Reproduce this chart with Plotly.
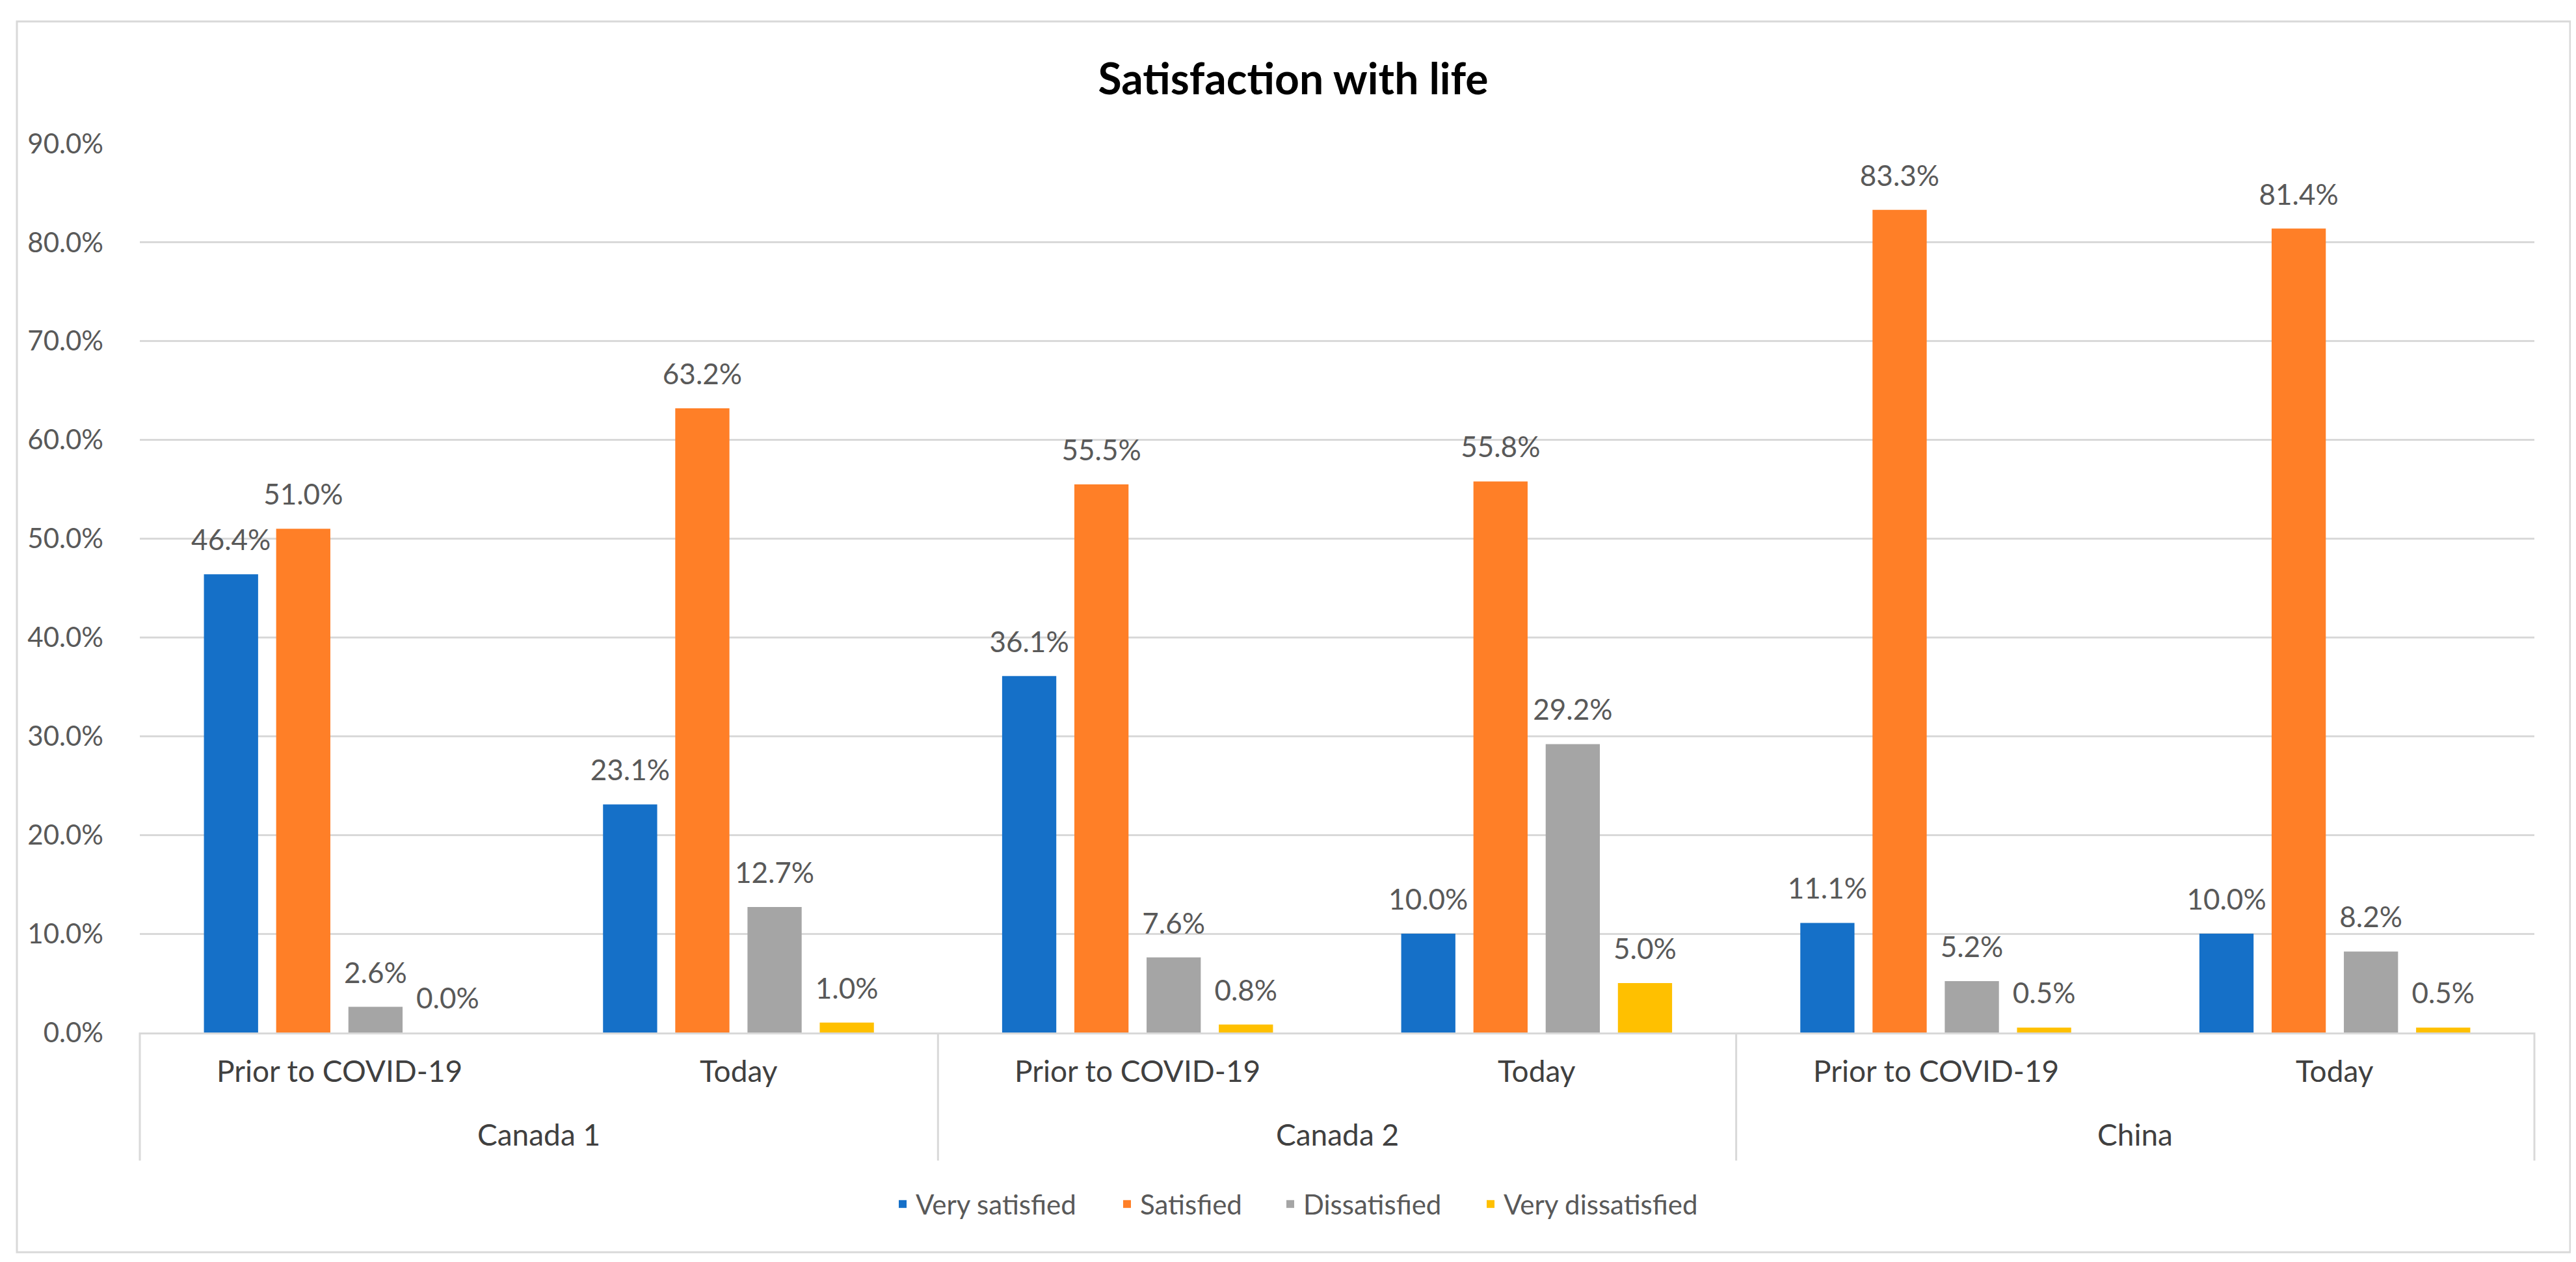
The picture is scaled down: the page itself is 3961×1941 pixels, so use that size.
import plotly.graph_objects as go

groups = ["Canada 1", "Canada 1", "Canada 2", "Canada 2", "China", "China"]
periods = ["Prior to COVID-19", "Today", "Prior to COVID-19", "Today", "Prior to COVID-19", "Today"]
group_names = ["Canada 1", "Canada 2", "China"]

series_names = ["Very satisfied", "Satisfied", "Dissatisfied", "Very dissatisfied"]
very_satisfied = [0.464, 0.231, 0.361, 0.100, 0.111, 0.100]
satisfied = [0.510, 0.632, 0.555, 0.558, 0.833, 0.814]
dissatisfied = [0.026, 0.127, 0.076, 0.292, 0.052, 0.082]
very_dissatisfied = [0.000, 0.010, 0.008, 0.050, 0.005, 0.005]
colors = ["#1570C8", "#FF7F27", "#A5A5A5", "#FFC000"]

y_ticks = [0.0, 0.1, 0.2, 0.3, 0.4, 0.5, 0.6, 0.7, 0.8, 0.9]

FONT = "Lato"
GREY = "#595959"
DARK = "#404040"
LINE = "#D9D9D9"

W, H = 3961, 1941
L, R, T, B = 207, 72, 213, 361
pw, ph = W - L - R, H - T - B

def px(xpix):
    return (xpix - L) / pw

def py(ypix):
    return (H - B - ypix) / ph

# legend left edges (pixels) for each series entry
legend_left = [1360, 1705, 1956, 2264]

all_vals = [very_satisfied, satisfied, dissatisfied, very_dissatisfied]

fig = go.Figure()
for k, (name, vals, col) in enumerate(zip(series_names, all_vals, colors)):
    lg = "legend" if k == 0 else f"legend{k + 1}"
    fig.add_trace(go.Bar(
        x=[groups, periods], y=vals, name=name,
        marker=dict(color=col, line=dict(width=0)),
        legend=lg,
    ))
for k, vals in enumerate(all_vals):
    fig.add_trace(go.Scatter(
        x=[groups, periods], y=vals, mode="markers+text",
        marker=dict(size=40, opacity=0, color="white"),
        texttemplate="%{y:.1%}", textposition="top center",
        textfont=dict(family=FONT, size=44, color=GREY),
        showlegend=False, cliponaxis=False, hoverinfo="skip",
    ))

n = len(periods)

legend_common = dict(orientation="h", xanchor="left", y=py(1844), yanchor="middle",
                     font=dict(family=FONT, size=42, color=GREY), itemwidth=30,
                     bgcolor="rgba(0,0,0,0)")
layout_legends = {}
for k, xl in enumerate(legend_left):
    key = "legend" if k == 0 else f"legend{k + 1}"
    layout_legends[key] = dict(legend_common, x=px(xl))

fig.update_layout(
    width=W, height=H,
    margin=dict(l=L, r=R, t=T, b=B),
    paper_bgcolor="white", plot_bgcolor="white",
    barmode="group", bargap=0.276, bargroupgap=0.25,
    scattermode="group", scattergap=0.276,
    font=dict(family=FONT, color=GREY),
    title=dict(text="<b>Satisfaction with life</b>", x=0.5, xanchor="center",
               y=1 - 114 / H, yanchor="middle", yref="container",
               font=dict(family=FONT, size=66, color="#000000")),
    showlegend=True,
    **layout_legends,
)
fig.update_yaxes(range=[0, 0.9], tickvals=y_ticks, tickformat=".1%",
                 showgrid=True, gridcolor=LINE, gridwidth=3,
                 zeroline=False, showline=False, ticks="",
                 ticklabelstandoff=55,
                 tickfont=dict(family=FONT, size=42, color=GREY))
fig.update_xaxes(showline=True, linecolor=LINE, linewidth=3,
                 showdividers=False, showticklabels=False, ticks="",
                 range=[-0.5, n - 0.5])

# category labels (first level)
for i, p in enumerate(periods):
    fig.add_annotation(text=p, xref="paper", yref="paper", x=(i + 0.5) / n, y=py(1638),
                       xanchor="center", yanchor="middle", showarrow=False,
                       font=dict(family=FONT, size=46, color=DARK))
# group labels (second level) and dividers
gsize = n // len(group_names)
for g, name in enumerate(group_names):
    fig.add_annotation(text=name, xref="paper", yref="paper",
                       x=(g * gsize + gsize / 2) / n, y=py(1737),
                       xanchor="center", yanchor="middle", showarrow=False,
                       font=dict(family=FONT, size=46, color=DARK))
for k in range(len(group_names) + 1):
    xb = k * gsize / n
    fig.add_shape(type="line", xref="paper", yref="paper", x0=xb, x1=xb,
                  y0=0, y1=py(1777), line=dict(color=LINE, width=3))

fig.add_shape(type="rect", xref="paper", yref="paper",
              x0=px(18), x1=px(3944), y0=py(1918), y1=py(25),
              line=dict(color=LINE, width=3), fillcolor="rgba(0,0,0,0)", layer="below")

fig.write_html("out.html")
